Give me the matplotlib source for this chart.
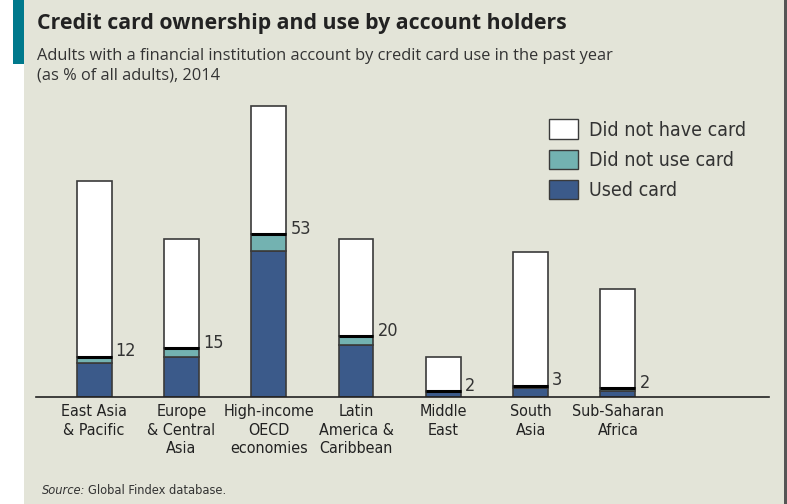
import numpy as np
import matplotlib.pyplot as plt
from matplotlib import font_manager
from matplotlib.patches import Rectangle, Patch

regions = ["East Asia\n& Pacific", "Europe\n& Central\nAsia", "High-income\nOECD\neconomies",
           "Latin\nAmerica &\nCaribbean", "Middle\nEast", "South\nAsia", "Sub-Saharan\nAfrica"]
used_card = [11.0, 12.9, 47.2, 16.7, 1.6, 3.0, 2.1]
not_used_card = [2.0, 2.9, 5.5, 2.9, 0.2, 0.7, 0.7]
no_card = [56.8, 35.2, 41.4, 31.4, 11.0, 43.2, 32.3]
card_labels = ["12", "15", "53", "20", "2", "3", "2"]

bg = "#E3E4D8"
blue = "#3B5A8A"
teal = "#73B2B1"
edge = "#3a3a3a"
txt = "#333333"

# pick a condensed face if one is installed
fonts = font_manager.fontManager.ttflist
names = {f.name for f in fonts}
stretch = "normal"
if "Liberation Sans Narrow" in names:
    narrow = "Liberation Sans Narrow"
elif any(f.name == "DejaVu Sans" and f.stretch == "condensed" for f in fonts):
    narrow = "DejaVu Sans"
    stretch = "condensed"
else:
    narrow = "Liberation Sans"
nfont = {"family": narrow, "stretch": stretch}

fig = plt.figure(figsize=(7.87, 5.04), dpi=100)
fig.patch.set_facecolor("white")
# panel background, accent bar, right edge
fig.patches.append(Rectangle((24 / 787, 0), 1 - 24 / 787, 1, transform=fig.transFigure,
                             facecolor=bg, edgecolor="none", zorder=0))
fig.patches.append(Rectangle((13 / 787, 1 - 64 / 504), 11 / 787, 64 / 504, transform=fig.transFigure,
                             facecolor="#00798C", edgecolor="none", zorder=0))
fig.patches.append(Rectangle((784 / 787, 0), 3 / 787, 1, transform=fig.transFigure,
                             facecolor="#555555", edgecolor="none", zorder=0))

fig.text(37 / 787, 1 - 24 / 504, "Credit card ownership and use by account holders",
         fontsize=15.3, fontweight="bold", family="Open Sans", color="#222222", va="center")
fig.text(37 / 787, 1 - 66 / 504,
         "Adults with a financial institution account by credit card use in the past year\n(as % of all adults), 2014",
         fontsize=11.8, family="Open Sans", color=txt, va="center", linespacing=1.3)

ax = fig.add_axes([36 / 787, 1 - 397 / 504, (769 - 36) / 787, (397 - 95) / 504], zorder=2)
ax.set_facecolor("none")
x = np.arange(len(regions))
w = 0.4
used = np.array(used_card)
notused = np.array(not_used_card)
nocard = np.array(no_card)

ax.bar(x, used, w, color=blue, edgecolor=edge, linewidth=1.2, zorder=2)
ax.bar(x, notused, w, bottom=used, color=teal, edgecolor=edge, linewidth=1.2, zorder=2)
ax.bar(x, nocard, w, bottom=used + notused, color="white", edgecolor=edge, linewidth=1.2, zorder=2)
ax.hlines(used + notused, x - w / 2, x + w / 2, color="black", linewidth=2.2, zorder=3)

for xi, yi, lab in zip(x, used + notused, card_labels):
    ax.annotate(lab, (xi + w / 2, yi), xytext=(3, 4), textcoords="offset points",
                ha="left", va="center", fontsize=13, color=txt, **nfont)

ax.set_xlim(-0.665, 7.73)
ax.set_ylim(0, 97.7)
for s in ["top", "right", "left"]:
    ax.spines[s].set_visible(False)
ax.spines["bottom"].set_color("#222222")
ax.spines["bottom"].set_linewidth(1.2)
ax.set_yticks([])
ax.set_xticks(x)
ax.set_xticklabels(regions, fontsize=11.5, color="#222222", linespacing=1.3, **nfont)
ax.tick_params(axis="x", length=0, pad=5)

handles = [Patch(facecolor="white", edgecolor=edge, label="Did not have card"),
           Patch(facecolor=teal, edgecolor=edge, label="Did not use card"),
           Patch(facecolor=blue, edgecolor=edge, label="Used card")]
leg = fig.legend(handles=handles, loc="upper left", bbox_to_anchor=(531 / 787, 1 - 102 / 504),
                 frameon=False, prop={"family": narrow, "stretch": stretch, "size": 14},
                 handlelength=1.5, handleheight=1.15, labelspacing=0.52, handletextpad=0.58)
for t in leg.get_texts():
    t.set_color(txt)

src = fig.text(42 / 787, 1 - 490 / 504, "Source:", fontsize=9.2, style="italic",
               color=txt, va="center", **nfont)
fig.canvas.draw()
bb = src.get_window_extent()
fig.text(bb.x1 / fig.bbox.width + 3 / 787, 1 - 490 / 504, "Global Findex database.",
         fontsize=9.2, color=txt, va="center", **nfont)

fig.savefig("out.png", dpi=100)
